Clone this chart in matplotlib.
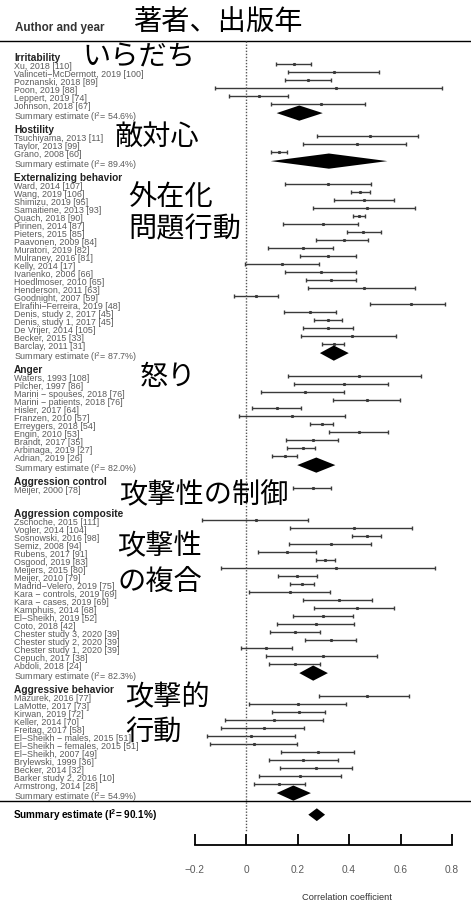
import numpy as np
import matplotlib
matplotlib.use("Agg")
import matplotlib.pyplot as plt
import matplotlib.transforms as mtransforms

plt.rcParams['font.family'] = ['Liberation Sans', 'DejaVu Sans']
plt.rcParams['mathtext.fontset'] = 'custom'
plt.rcParams['mathtext.rm'] = 'Liberation Sans'
plt.rcParams['mathtext.bf'] = 'Liberation Sans:bold'

# ---- data (correlation coefficients) ----
group_names = ["Irritability", "Hostility", "Externalizing behavior", "Anger",
               "Aggression control", "Aggression composite", "Aggressive behavior"]
group_i2 = [54.6, 89.4, 87.7, 82.0, None, 82.3, 54.9]

irr_labels = ["Xu, 2018 [110]", "Valinceti\u2212McDermott, 2019 [100]", "Poznanski, 2018 [89]",
              "Poon, 2019 [88]", "Leppert, 2019 [74]", "Johnson, 2018 [67]"]
irr_lo = [0.118, 0.163, 0.150, -0.122, -0.066, 0.096]
irr_est = [0.185, 0.340, 0.240, 0.350, 0.050, 0.290]
irr_hi = [0.252, 0.515, 0.330, 0.760, 0.164, 0.463]

hos_labels = ["Tsuchiyama, 2013 [11]", "Taylor, 2013 [99]", "Grano, 2008 [60]"]
hos_lo = [0.274, 0.220, 0.097]
hos_est = [0.480, 0.430, 0.130]
hos_hi = [0.669, 0.621, 0.160]

ext_labels = ["Ward, 2014 [107]", "Wang, 2019 [106]", "Shimizu, 2019 [95]", "Samaitiene, 2013 [93]",
              "Quach, 2018 [90]", "Pirinen, 2014 [87]", "Pieters, 2015 [85]", "Paavonen, 2009 [84]",
              "Muratori, 2019 [82]", "Mulraney, 2016 [81]", "Kelly, 2014 [17]", "Ivanenko, 2006 [66]",
              "Hoedlmoser, 2010 [65]", "Henderson, 2011 [63]", "Goodnight, 2007 [59]",
              "Elrafihi\u2212Ferreira, 2019 [48]", "Denis, study 2, 2017 [45]", "Denis, study 1, 2017 [45]",
              "De Vrijer, 2014 [105]", "Becker, 2015 [33]", "Barclay, 2011 [31]"]
ext_lo = [0.153, 0.406, 0.342, 0.259, 0.414, 0.144, 0.391, 0.271, 0.087, 0.210, -0.005,
          0.153, 0.232, 0.241, -0.045, 0.483, 0.149, 0.265, 0.223, 0.214, 0.294]
ext_est = [0.320, 0.443, 0.460, 0.470, 0.439, 0.300, 0.455, 0.380, 0.220, 0.320, 0.140,
           0.290, 0.330, 0.460, 0.040, 0.640, 0.249, 0.317, 0.320, 0.410, 0.340]
ext_hi = [0.484, 0.482, 0.575, 0.658, 0.463, 0.434, 0.524, 0.474, 0.338, 0.427, 0.285,
          0.426, 0.426, 0.656, 0.123, 0.774, 0.350, 0.373, 0.414, 0.584, 0.381]

ang_labels = ["Waters, 1993 [108]", "Pilcher, 1997 [86]", "Marini \u2212 spouses, 2018 [76]",
              "Marini \u2212 patients, 2018 [76]", "Hisler, 2017 [64]", "Franzen, 2010 [57]",
              "Erreygers, 2018 [54]", "Engin, 2010 [53]", "Brandt, 2017 [35]",
              "Arbinaga, 2019 [27]", "Adrian, 2019 [26]"]
ang_lo = [0.163, 0.186, 0.058, 0.337, 0.025, -0.027, 0.250, 0.321, 0.154, 0.161, 0.102]
ang_est = [0.440, 0.380, 0.230, 0.470, 0.120, 0.180, 0.294, 0.440, 0.260, 0.220, 0.150]
ang_hi = [0.678, 0.553, 0.379, 0.599, 0.212, 0.386, 0.339, 0.551, 0.359, 0.269, 0.198]

ctl_labels = ["Meijer, 2000 [78]"]
ctl_lo = [0.184]
ctl_est = [0.260]
ctl_hi = [0.329]

cmp_labels = ["Zschoche, 2015 [111]", "Vogler, 2014 [104]", "Sosnowski, 2016 [98]", "Semiz, 2008 [94]",
              "Rubens, 2017 [91]", "Osgood, 2019 [83]", "Meijers, 2015 [80]", "Meijer, 2010 [79]",
              "Madrid\u2212Velero, 2019 [75]", "Kara \u2212 controls, 2019 [69]", "Kara \u2212 cases, 2019 [69]",
              "Kamphuis, 2014 [68]", "El\u2212Sheikh, 2019 [52]", "Coto, 2018 [42]",
              "Chester study 3, 2020 [39]", "Chester study 2, 2020 [39]", "Chester study 1, 2020 [39]",
              "Cepuch, 2017 [38]", "Abdoli, 2018 [24]"]
cmp_lo = [-0.171, 0.172, 0.413, 0.168, 0.045, 0.271, -0.096, 0.126, 0.172, 0.012, 0.223,
          0.263, 0.183, 0.119, 0.092, 0.230, -0.021, 0.076, 0.088]
cmp_est = [0.040, 0.420, 0.469, 0.330, 0.158, 0.307, 0.350, 0.199, 0.219, 0.170, 0.360,
           0.430, 0.300, 0.270, 0.190, 0.330, 0.078, 0.300, 0.190]
cmp_hi = [0.240, 0.645, 0.524, 0.485, 0.272, 0.344, 0.735, 0.276, 0.264, 0.326, 0.489,
          0.576, 0.416, 0.421, 0.289, 0.428, 0.179, 0.509, 0.289]

agb_labels = ["Mazurek, 2016 [77]", "LaMotte, 2017 [73]", "Kirwan, 2019 [72]", "Keller, 2014 [70]",
              "Freitag, 2017 [58]", "El\u2212Sheikh \u2212 males, 2015 [51]",
              "El\u2212Sheikh \u2212 females, 2015 [51]", "El\u2212Sheikh, 2007 [49]",
              "Brylewski, 1999 [36]", "Becker, 2014 [32]", "Barker study 2, 2016 [10]",
              "Armstrong, 2014 [28]"]
agb_lo = [0.285, 0.012, 0.102, -0.080, -0.097, -0.150, -0.141, 0.137, 0.089, 0.133, 0.049, 0.032]
agb_est = [0.470, 0.200, 0.205, 0.110, 0.070, 0.020, 0.030, 0.280, 0.220, 0.272, 0.210, 0.130]
agb_hi = [0.632, 0.387, 0.308, 0.298, 0.227, 0.190, 0.199, 0.419, 0.356, 0.410, 0.368, 0.229]

# pooled estimates per group (lo, est, hi)
sum_lo = [0.119, 0.096, 0.287, 0.199, None, 0.207, 0.119]
sum_est = [0.207, 0.322, 0.341, 0.273, None, 0.261, 0.184]
sum_hi = [0.298, 0.549, 0.399, 0.347, None, 0.318, 0.252]

overall = (0.242, 0.275, 0.307)
overall_i2 = 90.1

jp_notes = ["著者、出版年", "いらだち", "敵対心", "外在化", "問題行動", "怒り",
            "攻撃性の制御", "攻撃性", "の複合", "攻撃的", "行動"]
jp_pos = [(133, 23), (82, 57), (115, 137), (128, 197), (128, 229), (140, 377),
          (119, 495), (117, 546), (117, 582), (125, 697), (125, 732)]

tick_vals = [-0.2, 0, 0.2, 0.4, 0.6, 0.8]
tick_labels = ["\u22120.2", "0", "0.2", "0.4", "0.6", "0.8"]

groups = [
    (irr_labels, irr_lo, irr_est, irr_hi),
    (hos_labels, hos_lo, hos_est, hos_hi),
    (ext_labels, ext_lo, ext_est, ext_hi),
    (ang_labels, ang_lo, ang_est, ang_hi),
    (ctl_labels, ctl_lo, ctl_est, ctl_hi),
    (cmp_labels, cmp_lo, cmp_est, cmp_hi),
    (agb_labels, agb_lo, agb_est, agb_hi),
]

# ---- layout ----
W, H = 471, 901
fig = plt.figure(figsize=(W / 100, H / 100), dpi=100)
ax = fig.add_axes([0, 0, 1, 1])
x0_px, x_scale = 246, 257.5        # pixel of r=0, pixels per unit r
y0_px, row_px = 64.3, 8.0           # pixel of first study row, pixels per row
ax.set_xlim(-x0_px / x_scale, (W - x0_px) / x_scale)
ax.set_ylim((H - y0_px) / row_px, -y0_px / row_px)

lab_tr = mtransforms.blended_transform_factory(ax.transAxes, ax.transData)
lab_x = 14 / W
gray = '#5a5a5a'
line_col = '#3a3a3a'
lab_dy = 0.25

row = -1
for gi, (labels, lo, est, hi) in enumerate(groups):
    ax.text(lab_x, row + lab_dy, group_names[gi], transform=lab_tr, fontsize=7.3,
            fontweight='bold', color='#222222', va='center', ha='left')
    rows = np.arange(len(labels)) + row + 1
    lo, est, hi = np.array(lo), np.array(est), np.array(hi)
    ax.errorbar(est, rows, xerr=[est - lo, hi - est], fmt='s', ms=1.2, color=line_col,
                ecolor=line_col, elinewidth=1.0, capsize=1.6, capthick=1.0)
    for lab, r in zip(labels, rows):
        ax.text(lab_x, r + lab_dy, lab, transform=lab_tr, fontsize=6.4, color=gray,
                va='center', ha='left')
    srow = row + len(labels) + 1
    if sum_est[gi] is not None:
        ax.fill([sum_lo[gi], sum_est[gi], sum_hi[gi], sum_est[gi]],
                [srow + 0.1, srow + 0.1 - 0.95, srow + 0.1, srow + 0.1 + 0.95],
                color='black', lw=0)
        ax.text(lab_x, srow + 0.6, "Summary estimate (I$^2$= %.1f%%)" % group_i2[gi],
                transform=lab_tr, fontsize=6.4, color=gray, va='center', ha='left')
    row = srow + 2

last_sum = row - 2
ax.axhline(-2.95, color='black', lw=1.0)
ax.axhline(last_sum + 1.1, color='black', lw=1.0)

orow = last_sum + 2.8
ax.fill([overall[0], overall[1], overall[2], overall[1]],
        [orow, orow - 0.8, orow, orow + 0.8], color='black', lw=0)
ax.text(13 / W, orow, "Summary estimate (I$^{\\mathbf{2}}$= %.1f%%)" % overall_i2,
        transform=lab_tr, fontsize=7.2, fontweight='bold', color='black',
        va='center', ha='left')

ax.text(15 / W, -4.5, "Author and year", transform=lab_tr, fontsize=8.4,
        fontweight='bold', color='#333333', va='center', ha='left')

ax.vlines(0, -2.95, 96.0, colors='#555555', linestyles=(0, (1, 1.2)), lw=1.0)

for txt, (px, py) in zip(jp_notes, jp_pos):
    ax.text(px / W, 1 - py / H, txt, transform=ax.transAxes, fontsize=20.3,
            family=['Noto Sans CJK JP'], color='black', va='center', ha='left')

# x axis like R's forest axis
for s in ['top', 'left', 'right']:
    ax.spines[s].set_visible(False)
ax.spines['bottom'].set_position(('data', 97.6))
ax.spines['bottom'].set_bounds(-0.2, 0.8)
ax.spines['bottom'].set_linewidth(1.3)
ax.set_yticks([])
ax.set_xticks(tick_vals)
ax.set_xticklabels(tick_labels)
ax.tick_params(axis='x', direction='in', length=8, width=1.3, pad=14,
               labelsize=7.3, labelcolor=gray, color='black')
ax.set_xlabel("Correlation coefficient", fontsize=6.7, color='#333333')
ax.xaxis.set_label_coords(346.7 / W, 1 - 893 / H)

fig.savefig("out.png", dpi=100)
